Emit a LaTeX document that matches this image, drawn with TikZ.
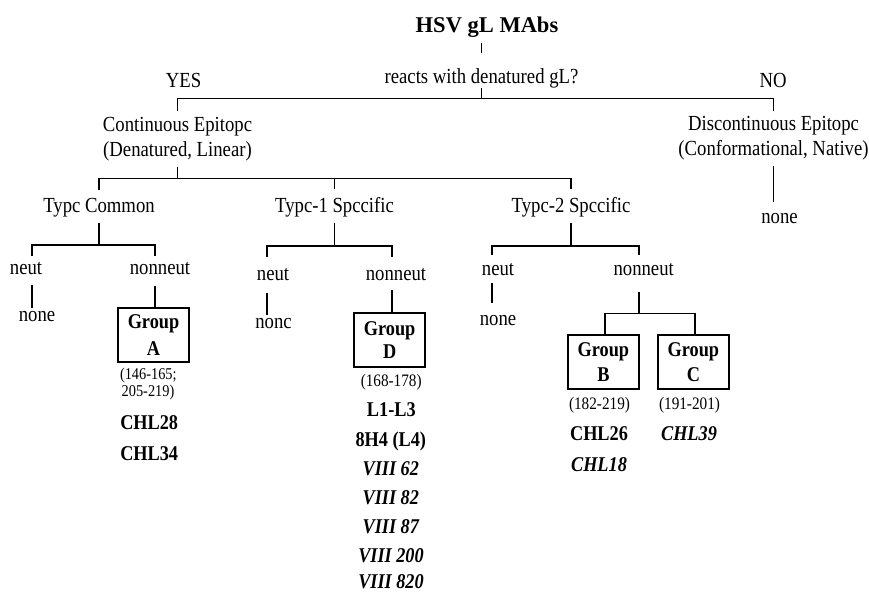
\documentclass[tikz,border=0pt]{standalone}
\usepackage{fontspec}
\setmainfont{Liberation Serif}[FakeStretch=0.87]
\newfontfamily\ttlfont{Liberation Serif}
\begin{document}
\begin{tikzpicture}[x=1pt,y=-1pt,
  txt/.style={inner sep=0pt, outer sep=0pt, anchor=base, font=\fontsize{21.5}{24}\selectfont},
  sm/.style={txt, font=\fontsize{17.5}{18}\selectfont},
  bd/.style={txt, font=\fontsize{21}{24}\selectfont\bfseries},
  bi/.style={txt, font=\fontsize{21}{24}\selectfont\bfseries\itshape},
  ttl/.style={txt, font=\fontsize{22.5}{26}\selectfont\ttlfont\bfseries},
  ln/.style={line width=1.6pt},
  grp/.style={draw, line width=2pt, minimum width=71.5pt, minimum height=54pt, inner sep=0pt, outer sep=0pt, align=center}]
\useasboundingbox[fill=white] (0,0) rectangle (869,592);

% text nodes
\node[ttl] (hsv) at (487,32) {HSV gL MAbs};
\node[txt] (rq) at (481.5,83) {reacts with denatured gL?};
\node[txt] (yes) at (183.5,87) {YES};
\node[txt] (no) at (773,87) {NO};
\node[txt] (cont) at (177.5,131) {Continuous Epitopc};
\node[txt] (contsub) at (177.5,156) {(Denatured, Linear)};
\node[txt] (disc) at (773.5,130) {Discontinuous Epitopc};
\node[txt] (discsub) at (773.5,155) {(Conformational, Native)};
\node[txt] (noneD) at (779.5,223) {none};
\node[txt] (tc) at (99,212) {Typc Common};
\node[txt] (t1) at (334.5,212) {Typc-1 Spccific};
\node[txt] (t2) at (571,212.5) {Typc-2 Spccific};
\node[txt] (neutA) at (26,274.3) {neut};
\node[txt] (nonneutA) at (160,274.3) {nonneut};
\node[txt] (noneA) at (37,321) {none};
\node[txt] (neutB) at (273,280.7) {neut};
\node[txt] (nonneutB) at (396,280.7) {nonneut};
\node[txt] (noneB) at (273.5,328) {nonc};
\node[txt] (neutC) at (498,275) {neut};
\node[txt] (nonneutC) at (643.7,275) {nonneut};
\node[txt] (noneC) at (498,325) {none};

% group boxes
\node[grp, font=\fontsize{21}{27}\selectfont\bfseries] (boxA) at (153.5,334.7) {Group\\A};
\node[grp, font=\fontsize{21}{23}\selectfont\bfseries] (boxD) at (389.65,339.7) {Group\\D};
\node[grp, font=\fontsize{21}{25}\selectfont\bfseries] (boxB) at (603.35,362.15) {Group\\B};
\node[grp, font=\fontsize{21}{25}\selectfont\bfseries] (boxC) at (693.35,362.15) {Group\\C};

% labels under boxes
\node[sm, anchor=base west, font=\fontsize{16.5}{17}\selectfont] (rA1) at (120,379) {(146-165;};
\node[sm, anchor=base west, font=\fontsize{16.5}{17}\selectfont] (rA2) at (121.7,396.5) {205-219)};
\node[bd] (chl28) at (149.2,429) {CHL28};
\node[bd] (chl34) at (149.2,460) {CHL34};
\node[sm] (rD) at (391.2,386.5) {(168-178)};
\node[bd] (l13) at (391.3,416.7) {L1-L3};
\node[bd] (h84) at (390.8,446) {8H4 (L4)};
\node[bi] (v62) at (390.8,475) {VIII 62};
\node[bi] (v82) at (390.8,504.5) {VIII 82};
\node[bi] (v87) at (390.8,533.5) {VIII 87};
\node[bi] (v200) at (391,562) {VIII 200};
\node[bi] (v820) at (391,588.5) {VIII 820};
\node[sm] (rB) at (599.5,409.5) {(182-219)};
\node[bd] (chl26) at (599,440) {CHL26};
\node[bi] (chl18) at (599,471.7) {CHL18};
\node[sm] (rC) at (689.5,409.5) {(191-201)};
\node[bi] (chl39) at (689,440) {CHL39};

% junction coordinates
\coordinate (j1) at (481.5,98.5);
\coordinate (j2) at (177.5,178.5);
\coordinate (a1) at (32,245);
\coordinate (a2) at (155,245);
\coordinate (b1) at (266.7,245.7);
\coordinate (b2) at (391.7,245.7);
\coordinate (c1) at (492,246);
\coordinate (c2) at (639,246);
\coordinate (d1) at (605,313.3);
\coordinate (d2) at (695,313.3);
\coordinate (dj) at (639,313.3);

% connectors
\draw[ln, shorten <=15pt, shorten >=6pt] (rq.north) -- (rq.north |- hsv.south);
\draw[ln] (rq.south) -- (j1);
\draw[ln, shorten <=6pt, shorten >=5pt] (cont.north) -- (cont.north |- j1) -- (disc.north |- j1) -- (disc.north);
\draw[ln, shorten <=6pt] (contsub.south) -- (j2);
\draw[ln, shorten <=8pt, shorten >=8pt] (tc.north) -- (tc.north |- j2) -- (t2.north |- j2) -- (t2.north);
\draw[ln, shorten <=8pt] (t1.north) -- (t1.north |- j2);
\draw[ln, shorten <=6pt, shorten >=11pt] (discsub.south) -- (discsub.south |- noneD.north);

\draw[ln, shorten <=6pt] (tc.south) -- (tc.south |- a1);
\draw[ln, shorten <=6pt, shorten >=6pt] (neutA.north -| a1) -- (a1) -- (a2) -- (nonneutA.north -| a2);
\draw[ln, shorten <=10.7pt, shorten >=3pt] (neutA.south -| a1) -- (noneA.north -| a1);
\draw[ln, shorten <=11pt] (nonneutA.south -| a2) -- (boxA.north -| a2);

\draw[ln, shorten <=6pt] (t1.south) -- (t1.south |- b1);
\draw[ln, shorten <=12pt, shorten >=12pt] (neutB.north -| b1) -- (b1) -- (b2) -- (nonneutB.north -| b2);
\draw[ln, shorten <=12pt, shorten >=3pt] (neutB.south -| b1) -- (noneB.north -| b1);
\draw[ln, shorten <=9pt] (nonneutB.south -| b2) -- (boxD.north -| b2);

\draw[ln, shorten <=6pt] (t2.south) -- (t2.south |- c1);
\draw[ln, shorten <=7.5pt, shorten >=7.5pt] (neutC.north -| c1) -- (c1) -- (c2) -- (nonneutC.north -| c2);
\draw[ln, shorten <=8pt, shorten >=12pt] (neutC.south -| c1) -- (noneC.north -| c1);
\draw[ln, shorten <=16.5pt] (nonneutC.south -| c2) -- (dj);
\draw[ln] (boxB.north -| d1) -- (d1) -- (d2) -- (boxC.north -| d2);
\end{tikzpicture}
\end{document}
